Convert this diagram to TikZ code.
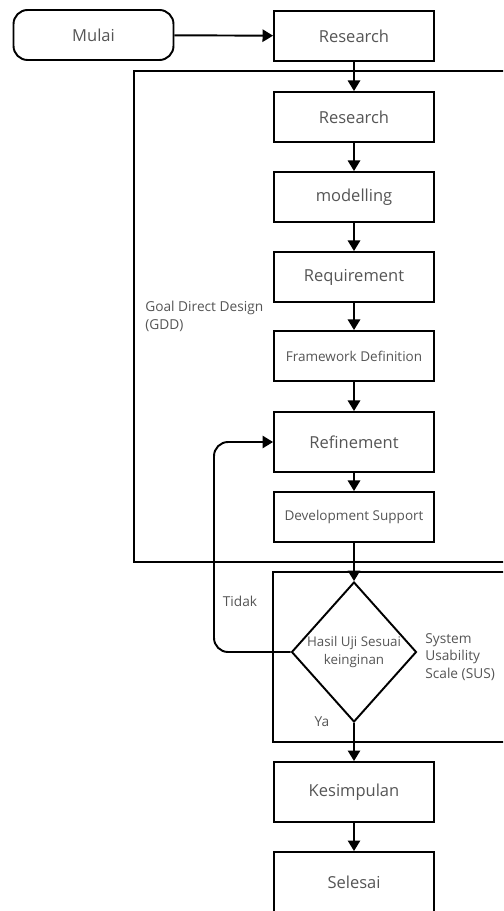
\documentclass[tikz,border=0pt]{standalone}
\usepackage{fontspec}
\setmainfont{Open Sans}
\usetikzlibrary{arrows.meta,shapes.geometric}
\definecolor{txtgray}{HTML}{555555}
\tikzstyle{every node}=[text=txtgray]
\tikzstyle{stepbox}=[draw=black,line width=1.1pt,minimum width=3.2cm,minimum height=1cm,font=\fontsize{9.4}{11}\selectfont]
\tikzstyle{tallbox}=[stepbox,minimum height=1.2cm]
\tikzstyle{smallbox}=[stepbox,font=\fontsize{7.7}{9}\selectfont]
\tikzstyle{flow}=[draw=black,line width=1.1pt,-{Triangle[width=7pt,length=6pt]}]
\tikzstyle{frame}=[draw=black,line width=1pt]
\tikzstyle{note}=[align=left,anchor=north west,inner sep=0pt,font=\fontsize{7.8}{10}\selectfont]

\begin{document}
\begin{tikzpicture}[x=0.02cm,y=-0.02cm]
\useasboundingbox (0,0) rectangle (503,911);
\clip (0,0) rectangle (503,911);

%frames
\draw[frame] (530,71) -- (134,71) -- (134,562) -- (530,562);
\draw[frame] (530,572) -- (273,572) -- (273,742) -- (530,742);

%boxes
\node[stepbox,rounded corners=8pt] (mulai) at (93.5,35) {Mulai};
\node[stepbox] (research) at (354,36) {Research};
\node[stepbox] (research2) at (354,117) {Research};
\node[stepbox] (modelling) at (354,197) {modelling};
\node[stepbox] (requirement) at (354,277) {Requirement};
\node[smallbox] (framework) at (354,356) {Framework Definition};
\node[tallbox] (refinement) at (354,442) {Refinement};
\node[smallbox] (support) at (354,517) {Development Support};
\node[draw=black,line width=1.1pt,diamond,minimum width=2.4cm,minimum height=2.8cm,inner sep=0pt,align=center,font=\fontsize{7.6}{10}\selectfont] (hasil) at (354,652) {Hasil Uji Sesuai\\keinginan};
\node[tallbox] (kesimpulan) at (354,792) {Kesimpulan};
\node[tallbox] (selesai) at (354,882) {Selesai};

%labels
\node[note] (gdd) at (145,301) {Goal Direct Design\\(GDD)};
\node[note] (sus) at (425,633) {System\\Usability\\Scale (SUS)};
\node[note,anchor=center] (tidak) at (240,601) {Tidak};
\node[note,anchor=center] (ya) at (322,722) {Ya};

%arrows
\draw[flow] (mulai) -- (research);
\draw[flow] (research) -- (research2);
\draw[flow] (research2) -- (modelling);
\draw[flow] (modelling) -- (requirement);
\draw[flow] (requirement) -- (framework);
\draw[flow] (framework) -- (refinement);
\draw[flow] (refinement) -- (support);
\draw[flow] (support) -- (hasil);
\draw[flow] (hasil) -- (kesimpulan);
\draw[flow] (kesimpulan) -- (selesai);
\draw[flow,rounded corners=8pt] (hasil.west) -| (214,442) -- (refinement.west);

\end{tikzpicture}
\end{document}
